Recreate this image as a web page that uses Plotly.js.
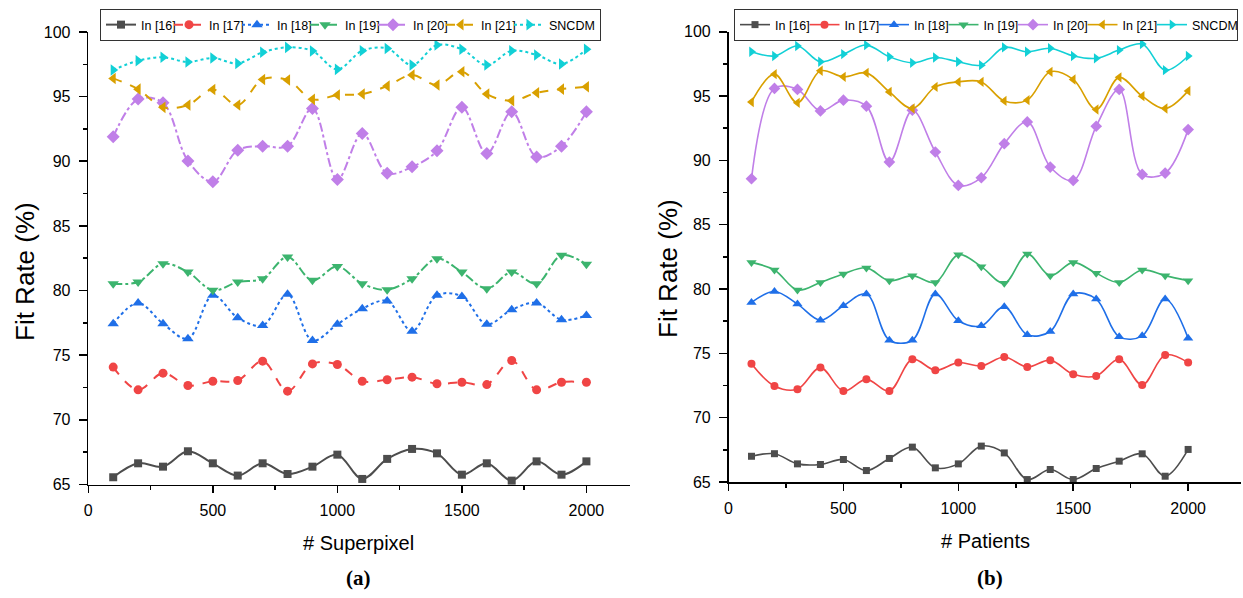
<!DOCTYPE html>
<html><head><meta charset="utf-8">
<script src="https://cdn.plot.ly/plotly-3.0.1.min.js"></script>
<style>html,body{margin:0;padding:0;background:#fff}#chart{width:1243px;height:598px}</style>
</head><body><div id="chart"></div>
<script>
// ---- data ----
const xValues = [100,200,300,400,500,600,700,800,900,1000,1100,1200,1300,1400,1500,1600,1700,1800,1900,2000];
const seriesNames = ['In [16]','In [17]','In [18]','In [19]','In [20]','In [21]','SNCDM'];
const xTickLabels = ['0','500','1000','1500','2000'];
const xTickValues = [0,500,1000,1500,2000];

// (a) # Superpixel
const sp16 = [65.56,66.64,66.38,67.57,66.64,65.69,66.64,65.81,66.38,67.31,65.43,66.98,67.75,67.41,65.76,66.64,65.30,66.79,65.76,66.79];
const sp17 = [74.08,72.32,73.61,72.66,72.99,73.04,74.54,72.22,74.33,74.28,72.99,73.10,73.30,72.79,72.91,72.73,74.59,72.32,72.91,72.91];
const sp18 = [77.44,79.04,77.44,76.28,79.63,77.90,77.30,79.71,76.14,77.39,78.60,79.19,76.86,79.63,79.55,77.39,78.52,79.04,77.75,78.08];
const sp19 = [80.53,80.66,82.08,81.43,80.02,80.66,80.92,82.60,80.79,81.87,80.53,80.07,80.92,82.47,81.43,80.15,81.43,80.53,82.73,82.03];
const sp20 = [91.89,94.81,94.52,90.03,88.41,90.86,91.17,91.17,94.09,88.59,92.15,89.08,89.57,90.81,94.17,90.60,93.83,90.34,91.17,93.83];
const sp21 = [96.41,95.58,94.17,94.35,95.56,94.35,96.33,96.28,94.79,95.12,95.20,95.82,96.67,95.90,96.93,95.20,94.68,95.30,95.58,95.77];
const spS  = [97.06,97.78,98.04,97.68,97.99,97.57,98.43,98.81,98.53,97.11,98.55,98.73,97.44,98.99,98.66,97.44,98.55,98.22,97.52,98.66];

// (b) # Patients
const pt16 = [67.00,67.20,66.41,66.36,66.75,65.89,66.83,67.71,66.10,66.41,67.79,67.26,65.19,65.97,65.19,66.05,66.62,67.19,65.45,67.53];
const pt17 = [74.20,72.46,72.21,73.89,72.07,72.98,72.07,74.54,73.69,74.28,74.02,74.72,73.94,74.47,73.37,73.24,74.54,72.54,74.88,74.28];
const pt18 = [78.96,79.81,78.83,77.58,78.70,79.61,76.02,76.02,79.61,77.53,77.14,78.62,76.44,76.70,79.61,79.22,76.28,76.36,79.22,76.18];
const pt19 = [82.07,81.48,79.92,80.51,81.17,81.64,80.65,81.04,80.51,82.67,81.74,80.44,82.73,81.04,82.07,81.22,80.51,81.48,81.04,80.65];
const pt20 = [88.57,95.59,95.51,93.84,94.68,94.21,89.87,93.90,90.65,88.05,88.65,91.30,92.99,89.48,88.44,92.65,95.51,88.91,89.01,92.39];
const pt21 = [94.54,96.70,94.47,96.96,96.49,96.80,95.32,94.03,95.71,96.10,96.10,94.62,94.68,96.88,96.29,93.95,96.45,94.99,94.03,95.40];
const ptS  = [98.44,98.11,98.89,97.66,98.26,98.96,98.05,97.58,98.00,97.66,97.40,98.78,98.44,98.71,98.11,97.93,98.57,99.04,97.01,98.11];

// ---- styles ----
const colors  = ['#4d4d4d','#f04545','#1f6fe8','#3cb46e','#c07fe8','#d9a000','#12d0d6'];
const symbols = ['square','circle','triangle-up','triangle-down','diamond','triangle-left','triangle-right'];
const sizes   = [8,9,10,10,10,10,10];
const dashesA = ['solid','dash','dot','dashdot','dashdot','dash','dot'];

const setA = [sp16,sp17,sp18,sp19,sp20,sp21,spS];
const setB = [pt16,pt17,pt18,pt19,pt20,pt21,ptS];

const FONT = 'Liberation Sans, Arial, sans-serif';
const traces = [];
setA.forEach((ys,i)=>{
  const t = {x:xValues,y:ys,name:seriesNames[i],xaxis:'x',yaxis:'y',legend:'legend',
    mode:'lines+markers',cliponaxis:false,
    line:{color:colors[i],width:2,dash:dashesA[i],shape:'spline',smoothing:1},
    marker:{color:colors[i],symbol:symbols[i],size:sizes[i]}};
  if(i===6) t.legendwidth = 46;
  traces.push(t);
});
setB.forEach((ys,i)=>{
  const t = {x:xValues,y:ys,name:seriesNames[i],xaxis:'x2',yaxis:'y2',legend:'legend2',
    mode:'lines+markers',cliponaxis:false,
    line:{color:colors[i],width:1.6,dash:'solid',shape:'spline',smoothing:1},
    marker:{color:colors[i],symbol:symbols[i],size:sizes[i]-1}};
  if(i===6) t.legendwidth = 40;
  traces.push(t);
});

function xax(domain, range, anchor){
  return {domain:domain,range:range,anchor:anchor,tickvals:xTickValues,ticktext:xTickLabels,
    showline:true,linecolor:'#000',linewidth:1.6,ticks:'outside',ticklen:7,tickwidth:1.6,tickcolor:'#000',
    minor:{tickvals:[250,750,1250,1750],ticks:'outside',ticklen:4,tickwidth:1.6,tickcolor:'#000'},
    showgrid:false,zeroline:false,ticklabelstandoff:4,automargin:false,
    tickfont:{family:FONT,size:16,color:'#000'},fixedrange:true};
}
function yax(domain, anchor){
  return {domain:domain,range:[65,100],anchor:anchor,dtick:5,tick0:65,
    showline:true,linecolor:'#000',linewidth:1.6,ticks:'outside',ticklen:8,tickwidth:1.6,tickcolor:'#000',
    minor:{dtick:2.5,ticks:'outside',ticklen:4,tickwidth:1.6,tickcolor:'#000'},
    showgrid:false,zeroline:false,ticklabelstandoff:5,automargin:false,
    tickfont:{family:FONT,size:16,color:'#000'},fixedrange:true};
}
function legend(x, ew){
  return {x:x,y:1-9/598,xanchor:'left',yanchor:'top',orientation:'h',
    bgcolor:'#fff',bordercolor:'#333',borderwidth:1,
    font:{family:FONT,size:12.5,color:'#000'},entrywidth:ew,entrywidthmode:'pixels',itemwidth:30};
}
const W=1243,H=598;
function ann(text,x,y,size,angle,family){
  return {text:text,x:x/W,y:1-y/H,xref:'paper',yref:'paper',showarrow:false,xanchor:'center',yanchor:'middle',
    textangle:angle||0,font:{family:family||FONT,size:size,color:'#000'}};
}
const SERIF = 'Liberation Serif, Times New Roman, serif';
const layout = {
  width:W,height:H,margin:{l:0,r:0,t:0,b:0,autoexpand:false},paper_bgcolor:'#fff',plot_bgcolor:'#fff',
  showlegend:true,
  xaxis: xax([88.3/W,630/W],[0,2175],'y'),
  yaxis: yax([1-484.5/H,1-32/H],'x'),
  xaxis2: xax([728.5/W,1241/W],[0,2230],'y2'),
  yaxis2: yax([1-482/H,1-31.7/H],'x2'),
  legend: legend(100/W, 23),
  legend2: legend(734/W, 24.5),
  annotations:[
    ann('Fit Rate (%)',25,272,26,-90),
    ann('Fit Rate (%)',668,268,26,-90),
    ann('# Superpixel',358,543,20),
    ann('# Patients',985,541,20),
    ann('<b>(a)</b>',358,578,21,0,SERIF),
    ann('<b>(b)</b>',990,578,21,0,SERIF)
  ]
};
Plotly.newPlot('chart',traces,layout,{staticPlot:true,displayModeBar:false});
</script></body></html>
